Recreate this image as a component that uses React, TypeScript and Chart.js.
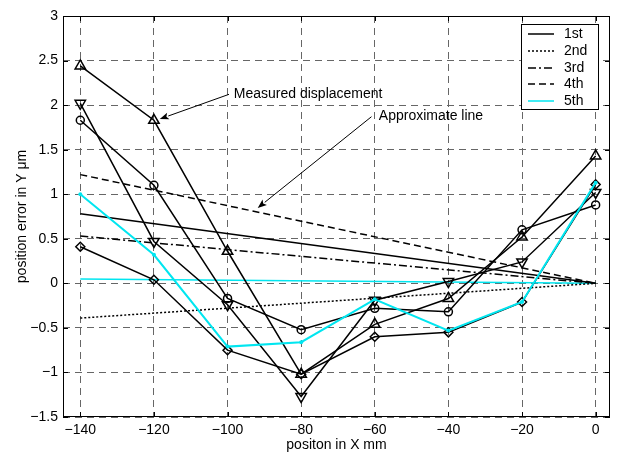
import { useEffect, useRef } from 'react';
import { Chart, registerables } from 'chart.js';

Chart.register(...registerables);

// ---- data ----
const positions = [-140, -120, -100, -80, -60, -40, -20, 0];
const measuredUpTriangle = [2.44, 1.83, 0.36, -1.02, -0.46, -0.17, 0.52, 1.43];
const measuredDownTriangle = [2.02, 0.47, -0.24, -1.27, -0.19, 0.02, 0.24, 1.02];
const measuredCircle = [1.83, 1.1, -0.17, -0.52, -0.28, -0.32, 0.6, 0.88];
const measuredDiamond = [0.41, 0.04, -0.75, -1.02, -0.6, -0.55, -0.21, 1.11];
const measuredCyan = [1.0, 0.32, -0.71, -0.66, -0.18, -0.53, -0.21, 1.13];

const approxEnds = [-140, 0];
const approx1st = [0.78, 0];
const approx2nd = [-0.39, 0];
const approx3rd = [0.53, 0];
const approx4th = [1.22, 0];
const approx5th = [0.05, 0];

const legendLabels = ['1st', '2nd', '3rd', '4th', '5th'];
const xTicks = [-140, -120, -100, -80, -60, -40, -20, 0];
const yTicks = [-1.5, -1, -0.5, 0, 0.5, 1, 1.5, 2, 2.5, 3];
const xTitle = 'positon in X mm';
const yTitle = 'position error in Y \u03bcm';

// annotations (data coordinates)
const noteTexts = ['Measured displacement', 'Approximate line'];
const noteTextAt = [[-98.3, 2.12], [-58.9, 1.877]];
const noteArrowFrom = [[-99.6, 2.121], [-60.9, 1.87]];
const noteArrowTo = [[-118.4, 1.844], [-91.8, 0.846]];

const CYAN = 'rgb(0,230,240)';
const FONT = "'Liberation Sans', Arial, sans-serif";

const fmt = (v: number) => String(v).replace('-', '\u2212');

export default function App() {
  const ref = useRef<HTMLCanvasElement>(null);

  useEffect(() => {
    const canvas = ref.current!;
    const toPts = (xs: number[], ys: number[]) => xs.map((x, i) => ({ x, y: ys[i] }));

    const approx = (label: string, values: number[], dash: number[], color: string) => ({
      label,
      data: toPts(approxEnds, values),
      borderColor: color,
      borderWidth: 1.5,
      borderDash: dash,
      pointRadius: 0,
      fill: false,
      order: 10,
    });
    const measured = (values: number[], style: string, radius: number, rotation: number) => ({
      label: '',
      data: toPts(positions, values),
      borderColor: '#000',
      borderWidth: 1.5,
      pointStyle: style,
      pointRadius: radius,
      pointRotation: rotation,
      pointBorderColor: '#000',
      pointBackgroundColor: 'rgba(0,0,0,0)',
      pointBorderWidth: 1.5,
      fill: false,
      order: 5,
    });

    const datasets: any[] = [
      approx(legendLabels[0], approx1st, [], '#000'),
      approx(legendLabels[1], approx2nd, [2, 2], '#000'),
      approx(legendLabels[2], approx3rd, [8, 3, 2, 3], '#000'),
      approx(legendLabels[3], approx4th, [7, 4], '#000'),
      approx(legendLabels[4], approx5th, [], CYAN),
      measured(measuredUpTriangle, 'triangle', 6, 0),
      measured(measuredDownTriangle, 'triangle', 6, 180),
      measured(measuredCircle, 'circle', 4, 0),
      measured(measuredDiamond, 'rectRot', 4.5, 0),
      {
        label: '',
        data: toPts(positions, measuredCyan),
        borderColor: CYAN,
        borderWidth: 2,
        pointStyle: 'circle',
        pointRadius: 2,
        pointBorderWidth: 0,
        pointBackgroundColor: CYAN,
        fill: false,
        order: 0,
      },
    ];

    const overlay = {
      id: 'overlay',
      afterDraw(chart: any) {
        const { ctx, chartArea: a, scales } = chart;
        const xs = scales.x;
        const ys = scales.y;
        ctx.save();
        ctx.setLineDash([]);
        ctx.strokeStyle = '#000';
        ctx.lineWidth = 1;
        // inward ticks
        ctx.beginPath();
        for (const v of xTicks) {
          const px = Math.round(xs.getPixelForValue(v)) + 0.5;
          ctx.moveTo(px, a.bottom);
          ctx.lineTo(px, a.bottom - 5);
          ctx.moveTo(px, a.top);
          ctx.lineTo(px, a.top + 5);
        }
        for (const v of yTicks) {
          const py = Math.round(ys.getPixelForValue(v)) + 0.5;
          ctx.moveTo(a.left, py);
          ctx.lineTo(a.left + 5, py);
          ctx.moveTo(a.right, py);
          ctx.lineTo(a.right - 5, py);
        }
        ctx.stroke();
        // box
        ctx.strokeRect(Math.round(a.left) + 0.5, Math.round(a.top) + 0.5, Math.round(a.width) - 1, Math.round(a.height) - 1);

        // annotations
        ctx.font = `14px ${FONT}`;
        ctx.fillStyle = '#000';
        ctx.textAlign = 'left';
        ctx.textBaseline = 'middle';
        noteTexts.forEach((t, i) => {
          const tx = xs.getPixelForValue(noteTextAt[i][0]);
          const ty = ys.getPixelForValue(noteTextAt[i][1]);
          ctx.fillText(t, tx, ty);
          const x0 = xs.getPixelForValue(noteArrowFrom[i][0]);
          const y0 = ys.getPixelForValue(noteArrowFrom[i][1]);
          const x1 = xs.getPixelForValue(noteArrowTo[i][0]);
          const y1 = ys.getPixelForValue(noteArrowTo[i][1]);
          const ang = Math.atan2(y1 - y0, x1 - x0);
          const hl = 9;
          const hw = 3.5;
          const bx = x1 - Math.cos(ang) * hl;
          const by = y1 - Math.sin(ang) * hl;
          ctx.lineWidth = 1;
          ctx.beginPath();
          ctx.moveTo(x0, y0);
          ctx.lineTo(bx, by);
          ctx.stroke();
          ctx.beginPath();
          ctx.moveTo(x1, y1);
          ctx.lineTo(bx + Math.sin(ang) * hw, by - Math.cos(ang) * hw);
          ctx.lineTo(bx + Math.cos(ang) * 2, by + Math.sin(ang) * 2);
          ctx.lineTo(bx - Math.sin(ang) * hw, by + Math.cos(ang) * hw);
          ctx.closePath();
          ctx.fill();
        });

        // legend
        const lw = 77;
        const lh = 85;
        const lx = Math.round(a.right) - 89;
        const ly = Math.round(a.top) + 8;
        ctx.fillStyle = '#fff';
        ctx.fillRect(lx, ly, lw, lh);
        ctx.strokeStyle = '#000';
        ctx.lineWidth = 1;
        ctx.setLineDash([]);
        ctx.strokeRect(lx + 0.5, ly + 0.5, lw, lh);
        legendLabels.forEach((label, i) => {
          const ds = chart.data.datasets[i];
          const yy = Math.round(ly + 10.3 + i * 16.6);
          ctx.save();
          ctx.strokeStyle = ds.borderColor;
          ctx.lineWidth = ds.borderWidth;
          ctx.setLineDash(ds.borderDash || []);
          ctx.beginPath();
          ctx.moveTo(lx + 7, yy);
          ctx.lineTo(lx + 33, yy);
          ctx.stroke();
          ctx.restore();
          ctx.fillStyle = '#000';
          ctx.font = `14px ${FONT}`;
          ctx.textAlign = 'left';
          ctx.textBaseline = 'middle';
          ctx.fillText(label, lx + 43, yy);
        });
        ctx.restore();
      },
    };

    const chart = new Chart(canvas, {
      type: 'line',
      data: { datasets },
      plugins: [overlay],
      options: {
        animation: false,
        responsive: false,
        devicePixelRatio: 1,
        layout: { padding: { left: 0, right: 8, top: 16, bottom: 0 } },
        plugins: { legend: { display: false }, tooltip: { enabled: false } },
        elements: { line: { tension: 0 } },
        scales: {
          x: {
            type: 'linear',
            min: -144.7,
            max: 3.9,
            afterBuildTicks: (s: any) => {
              s.ticks = xTicks.map((v) => ({ value: v }));
            },
            afterFit: (s: any) => {
              s.height = 42;
            },
            grid: { color: '#666', lineWidth: 1, drawTicks: false },
            border: { display: false, dash: [7, 5] },
            ticks: {
              color: '#000',
              font: { family: FONT, size: 14 },
              padding: 5,
              maxRotation: 0,
              autoSkip: false,
              callback: (v: any) => fmt(Number(v)),
            },
            title: {
              display: true,
              text: xTitle,
              color: '#000',
              font: { family: FONT, size: 14 },
              padding: { top: 0, bottom: 5 },
            },
          },
          y: {
            type: 'linear',
            min: -1.5,
            max: 3,
            afterBuildTicks: (s: any) => {
              s.ticks = yTicks.map((v) => ({ value: v }));
            },
            afterFit: (s: any) => {
              s.width = 63;
            },
            grid: { color: '#666', lineWidth: 1, drawTicks: false },
            border: { display: false, dash: [7, 5] },
            ticks: {
              color: '#000',
              font: { family: FONT, size: 14 },
              padding: 5,
              autoSkip: false,
              callback: (v: any) => fmt(Number(v)),
            },
            title: {
              display: true,
              text: yTitle,
              color: '#000',
              font: { family: FONT, size: 14 },
              padding: { top: 14, bottom: 0 },
            },
          },
        },
      } as any,
    });
    return () => chart.destroy();
  }, []);

  return (
    <div style={{ position: 'fixed', left: 0, top: 0, width: 618, height: 459, background: '#fff' }}>
      <canvas ref={ref} width={618} height={459} style={{ display: 'block', width: 618, height: 459 }} />
    </div>
  );
}
